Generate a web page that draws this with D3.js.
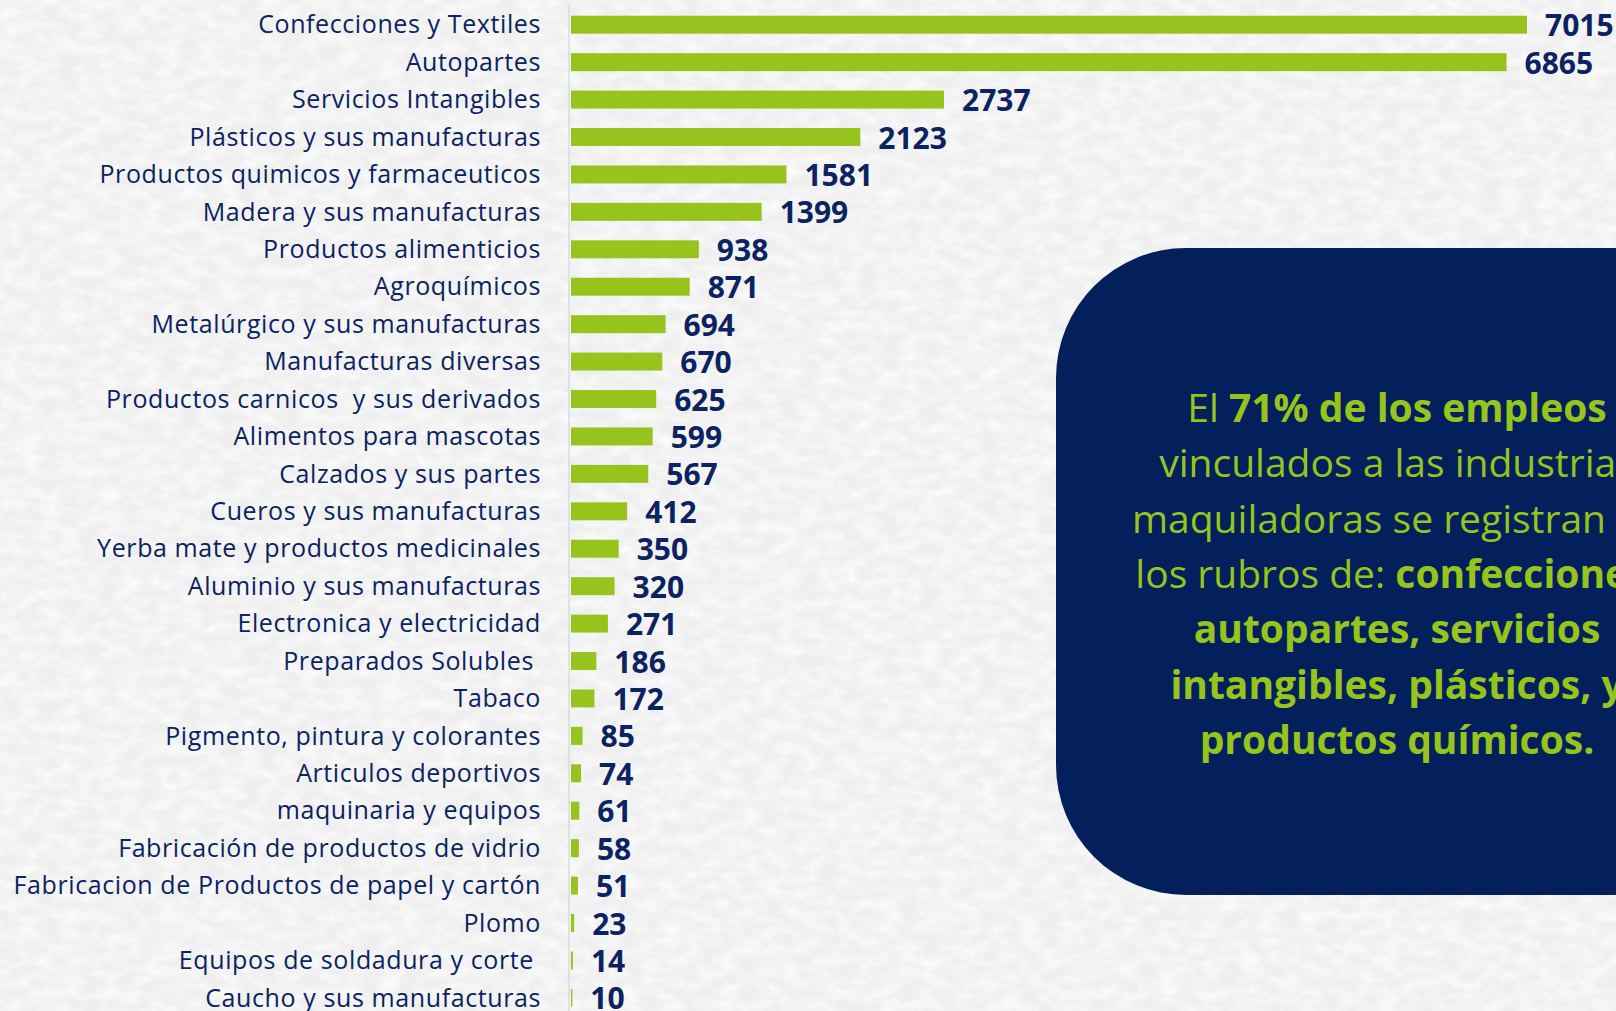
<!DOCTYPE html>
<html>
<head>
<meta charset="utf-8">
<script src="https://cdn.jsdelivr.net/npm/d3@7"></script>
<style>
  html, body { margin: 0; padding: 0; background: #f3f3f3; }
  svg { display: block; }
  text { white-space: pre; }
</style>
</head>
<body>
<svg id="chart" width="1616" height="1011"></svg>
<script>
const categories = [
  "Confecciones y Textiles",
  "Autopartes",
  "Servicios Intangibles",
  "Plásticos y sus manufacturas",
  "Productos quimicos y farmaceuticos",
  "Madera y sus manufacturas",
  "Productos alimenticios",
  "Agroquímicos",
  "Metalúrgico y sus manufacturas",
  "Manufacturas diversas",
  "Productos carnicos  y sus derivados",
  "Alimentos para mascotas",
  "Calzados y sus partes",
  "Cueros y sus manufacturas",
  "Yerba mate y productos medicinales",
  "Aluminio y sus manufacturas",
  "Electronica y electricidad",
  "Preparados Solubles ",
  "Tabaco",
  "Pigmento, pintura y colorantes",
  "Articulos deportivos",
  "maquinaria y equipos",
  "Fabricación de productos de vidrio",
  "Fabricacion de Productos de papel y cartón",
  "Plomo",
  "Equipos de soldadura y corte ",
  "Caucho y sus manufacturas"
];
const values = [7015, 6865, 2737, 2123, 1581, 1399, 938, 871, 694, 670, 625, 599, 567,
  412, 350, 320, 271, 186, 172, 85, 74, 61, 58, 51, 23, 14, 10];

// texto del recuadro: [parte normal, parte en negrita]
const noteLines = [
  ["El ", "71% de los empleos"],
  ["vinculados a las industrias", ""],
  ["maquiladoras se registran en", ""],
  ["los rubros de: ", "confecciones,"],
  ["", "autopartes, servicios"],
  ["", "intangibles, plásticos, y"],
  ["", "productos químicos."]
];

const svg = d3.select("#chart");
const width = +svg.attr("width");
const height = +svg.attr("height");

const navy = "#0b2361";
const green = "#97c41c";
const font = "'Open Sans', Lato, sans-serif";

// fondo tipo papel
const defs = svg.append("defs");
const paper = defs.append("filter").attr("id", "paper")
  .attr("x", 0).attr("y", 0).attr("width", "100%").attr("height", "100%");
paper.append("feTurbulence")
  .attr("type", "fractalNoise")
  .attr("baseFrequency", "0.05 0.09")
  .attr("numOctaves", 3)
  .attr("seed", 3);
paper.append("feColorMatrix")
  .attr("type", "matrix")
  .attr("values", "0 0 0 0 1  0 0 0 0 1  0 0 0 0 1  0 0 0 1.6 -0.55");

svg.append("rect").attr("width", width).attr("height", height).attr("fill", "#efefef");
svg.append("rect").attr("width", width).attr("height", height)
  .attr("filter", "url(#paper)").attr("opacity", 0.9);

const x = d3.scaleLinear().domain([0, 7015]).range([571, 1527]);
const y = d3.scaleBand()
  .domain(categories)
  .range([6, 6 + 37.43 * categories.length])
  .paddingInner(0.52)
  .paddingOuter(0.26);

// eje vertical
svg.append("line")
  .attr("x1", 569).attr("x2", 569)
  .attr("y1", 5).attr("y2", height)
  .attr("stroke", "#d6dce6")
  .attr("stroke-width", 1.5);

svg.append("g")
  .selectAll("rect")
  .data(values)
  .join("rect")
  .attr("x", x(0))
  .attr("y", (d, i) => y(categories[i]))
  .attr("width", (d) => x(d) - x(0))
  .attr("height", y.bandwidth())
  .attr("fill", green);

svg.append("g")
  .selectAll("text")
  .data(categories)
  .join("text")
  .attr("x", 541)
  .attr("y", (d) => y(d) + y.bandwidth() / 2)
  .attr("dy", "0.35em")
  .attr("text-anchor", "end")
  .attr("font-family", font)
  .attr("font-size", 25)
  .attr("letter-spacing", 0.6)
  .attr("fill", navy)
  .text((d) => d);

svg.append("g")
  .selectAll("text")
  .data(values)
  .join("text")
  .attr("x", (d) => x(d) + 18)
  .attr("y", (d, i) => y(categories[i]) + y.bandwidth() / 2 + 1)
  .attr("dy", "0.35em")
  .attr("font-family", font)
  .attr("font-weight", "bold")
  .attr("font-size", 30)
  .attr("fill", navy)
  .text((d) => d);

// recuadro
svg.append("rect")
  .attr("x", 1056).attr("y", 248)
  .attr("width", 760).attr("height", 647)
  .attr("rx", 130).attr("ry", 130)
  .attr("fill", "#03205c");

const note = svg.append("text")
  .attr("text-anchor", "middle")
  .attr("font-family", font)
  .attr("font-size", 39)
  .attr("fill", green);

noteLines.forEach((ln, i) => {
  const t = note.append("tspan").attr("x", 1397).attr("y", 422 + i * 55.3);
  if (ln[0]) t.append("tspan").text(ln[0]);
  if (ln[1]) t.append("tspan").attr("font-weight", "bold").text(ln[1]);
});
</script>
</body>
</html>
